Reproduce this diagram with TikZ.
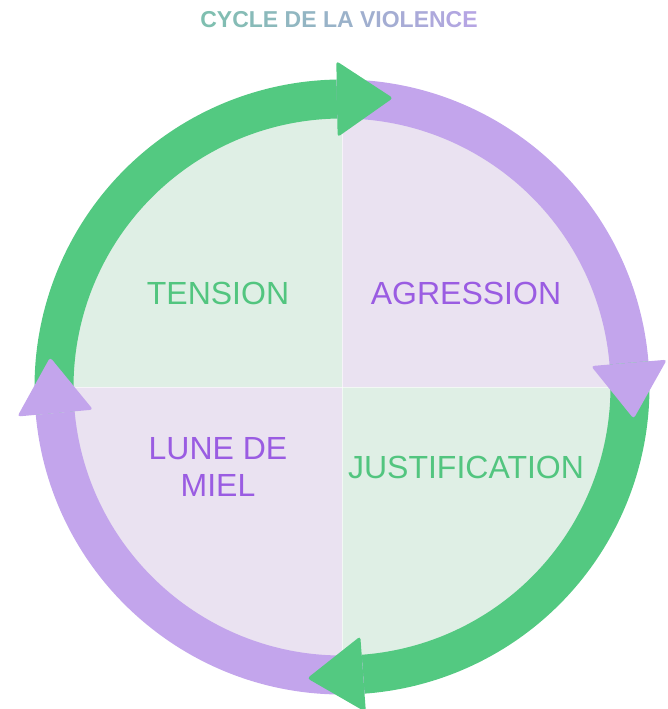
\documentclass[tikz,border=0pt]{standalone}
\usepackage{fontspec}
\setmainfont{Liberation Sans}
\usetikzlibrary{calc}

\definecolor{ringgreen}{HTML}{53C981}
\definecolor{ringpurple}{HTML}{C3A5EC}
\definecolor{fillgreen}{HTML}{DFEFE5}
\definecolor{fillpurple}{HTML}{EAE2F1}
\definecolor{textgreen}{HTML}{52C57F}
\definecolor{textpurple}{HTML}{9A5CE2}
\definecolor{titleA}{HTML}{7FBFB0}
\definecolor{titleB}{HTML}{B6A5E4}

\newcommand{\rout}{307.5}
\newcommand{\rin}{268.5}
% ring piece: colour, start angle, end angle
\newcommand{\ringpart}[3]{%
  \fill[#1] ($(c)+(#2:\rout)$) arc[start angle=#2,end angle=#3,radius=\rout]
    -- ($(c)+(#3:\rin)$) arc[start angle=#3,end angle=#2,radius=\rin] -- cycle;}
% arrow head: colour, base angle
\newcommand{\ringhead}[2]{%
  \fill[#1,rounded corners=3] ($(c)+(#2:250)$) -- ($(c)+(#2:288)+(#2-90:56)$)
    -- ($(c)+(#2:326)$) -- cycle;}
\newcommand{\gradl}[2]{\textcolor{titleB!#1!titleA}{#2}}

\begin{document}
\begin{tikzpicture}[x=1pt,y=1pt,
    phase/.style={font=\fontsize{32}{37}\selectfont,align=center}]
    \useasboundingbox (0,0) rectangle (667,709);
    \coordinate (c) at (342,322);

    % quadrants
    \begin{scope}
        \clip (c) circle[radius=275];
        \fill[fillgreen] (c) rectangle ++(-280,280);
        \fill[fillpurple] (c) rectangle ++(280,280);
        \fill[fillgreen] (c) rectangle ++(280,-280);
        \fill[fillpurple] (c) rectangle ++(-280,-280);
        \draw[white,opacity=0.6,line width=0.8] ($(c)+(0,-280)$) -- ($(c)+(0,280)$);
        \draw[white,opacity=0.6,line width=0.8] ($(c)+(-280,0)$) -- ($(c)+(280,0)$);
    \end{scope}

    % ring
    \ringpart{ringgreen}{185.2}{91}
    \ringpart{ringpurple}{91}{4.8}
    \ringpart{ringgreen}{4.8}{-85.8}
    \ringpart{ringpurple}{-85.8}{-174.8}
    \ringhead{ringgreen}{91}
    \ringhead{ringpurple}{4.8}
    \ringhead{ringgreen}{-85.8}
    \ringhead{ringpurple}{185.2}

    % labels
    \node[phase,text=textgreen] (tension) at (218,416) {TENSION};
    \node[phase,text=textpurple] (agression) at (466,416) {AGRESSION};
    \node[phase,text=textpurple] (lune) at (218,242.5) {LUNE DE\\MIEL};
    \node[phase,text=textgreen] (justif) at (466,242) {JUSTIFICATION};

    \node[font=\bfseries\fontsize{23}{23}\selectfont] (title) at (339,689)
        {\gradl{0}{C}\gradl{6}{Y}\gradl{12}{C}\gradl{17}{L}\gradl{22}{E}
         \gradl{32}{D}\gradl{37}{E} \gradl{46}{L}\gradl{51}{A}
         \gradl{60}{V}\gradl{64}{I}\gradl{68}{O}\gradl{74}{L}\gradl{79}{E}\gradl{85}{N}\gradl{92}{C}\gradl{98}{E}};
\end{tikzpicture}
\end{document}
